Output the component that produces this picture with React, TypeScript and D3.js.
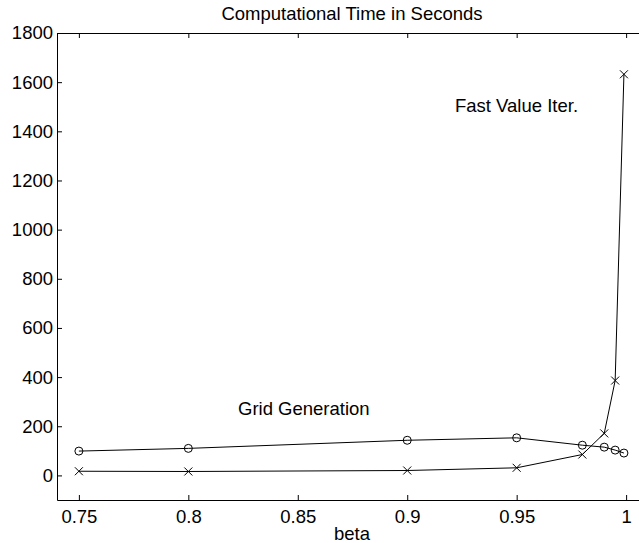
import React, { useRef, useEffect } from 'react';
import * as d3 from 'd3';

// beta values and timings (seconds)
const betaGrid = [0.75, 0.8, 0.9, 0.95, 0.98, 0.99, 0.995, 0.999];
const gridGeneration = [99, 110, 143, 153, 123, 115, 103, 91];
const betaFast = [0.75, 0.8, 0.9, 0.95, 0.98, 0.99, 0.995, 0.999];
const fastValueIter = [17, 16, 20, 31, 85, 171, 386, 1632];
const xTicks = [0.75, 0.8, 0.85, 0.9, 0.95, 1];
const yTicks = [0, 200, 400, 600, 800, 1000, 1200, 1400, 1600, 1800];

const App = () => {
    const svgRef = useRef<SVGSVGElement>(null);

    useEffect(() => {
        const svg = d3.select(svgRef.current);
        svg.selectAll('*').remove();

        const width = 639;
        const height = 543;
        const margin = { top: 33, right: -9, bottom: 43, left: 57 };
        const font = 'Liberation Sans, Arial, sans-serif';
        const fs = 18.5;

        const x = d3.scaleLinear()
            .domain([0.74, 1.01])
            .range([margin.left, width - margin.right]);

        const y = d3.scaleLinear()
            .domain([-100, 1800])
            .range([height - margin.bottom, margin.top]);

        const axisStyle = (g: any) => {
            g.select('.domain').attr('stroke', '#000');
            g.selectAll('.tick line').attr('stroke', '#000');
            g.selectAll('text')
                .attr('font-family', font)
                .attr('font-size', fs)
                .attr('fill', '#000');
        };

        // bottom, top and left axes (right side is cut off by the frame)
        svg.append('g')
            .attr('transform', `translate(0,${y(-100)})`)
            .call(d3.axisBottom(x).tickValues(xTicks).tickFormat(d => String(+d)).tickSize(-5).tickSizeOuter(0).tickPadding(10))
            .call(axisStyle);

        svg.append('g')
            .attr('transform', `translate(0,${y(1800)})`)
            .call(d3.axisTop(x).tickValues(xTicks).tickFormat(() => '').tickSize(-5).tickSizeOuter(0))
            .call(axisStyle);

        svg.append('g')
            .attr('transform', `translate(${x(0.74)},0)`)
            .call(d3.axisLeft(y).tickValues(yTicks).tickFormat(d3.format('d')).tickSize(-5).tickSizeOuter(0).tickPadding(4))
            .call(axisStyle);

        const line = d3.line<[number, number]>()
            .x(d => x(d[0]))
            .y(d => y(d[1]));

        const gridPts = betaGrid.map((b, i) => [b, gridGeneration[i]] as [number, number]);
        const fastPts = betaFast.map((b, i) => [b, fastValueIter[i]] as [number, number]);

        svg.append('path')
            .datum(gridPts)
            .attr('d', line)
            .attr('fill', 'none')
            .attr('stroke', '#000')
            .attr('stroke-width', 1);

        svg.append('path')
            .datum(fastPts)
            .attr('d', line)
            .attr('fill', 'none')
            .attr('stroke', '#000')
            .attr('stroke-width', 1);

        // circle markers
        svg.append('g')
            .selectAll('circle')
            .data(gridPts)
            .join('circle')
            .attr('cx', d => x(d[0]))
            .attr('cy', d => y(d[1]))
            .attr('r', 4)
            .attr('fill', 'none')
            .attr('stroke', '#000');

        // x markers
        svg.append('g')
            .selectAll('path')
            .data(fastPts)
            .join('path')
            .attr('d', d => {
                const cx = x(d[0]);
                const cy = y(d[1]);
                const s = 4;
                return `M${cx - s},${cy - s}L${cx + s},${cy + s}M${cx - s},${cy + s}L${cx + s},${cy - s}`;
            })
            .attr('stroke', '#000')
            .attr('fill', 'none');

        // labels
        svg.append('text')
            .attr('x', 352)
            .attr('y', 20)
            .attr('text-anchor', 'middle')
            .attr('font-family', font)
            .attr('font-size', fs)
            .text('Computational Time in Seconds');

        svg.append('text')
            .attr('x', 352)
            .attr('y', 540)
            .attr('text-anchor', 'middle')
            .attr('font-family', font)
            .attr('font-size', fs)
            .text('beta');

        svg.append('text')
            .attr('x', 455)
            .attr('y', 112)
            .attr('font-family', font)
            .attr('font-size', fs)
            .text('Fast Value Iter.');

        svg.append('text')
            .attr('x', 238)
            .attr('y', 415)
            .attr('font-family', font)
            .attr('font-size', fs)
            .text('Grid Generation');
    }, []);

    return (
        <svg
            ref={svgRef}
            width={639}
            height={543}
            style={{ position: 'absolute', left: 0, top: 0, background: '#fff' }}
        ></svg>
    );
};

export default App;
